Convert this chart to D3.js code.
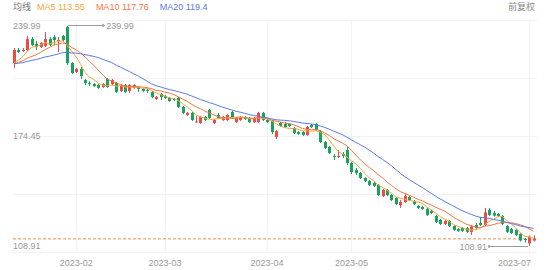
<!DOCTYPE html>
<html lang="zh">
<head>
<meta charset="UTF-8">
<title>日K 前复权</title>
<script src="https://d3js.org/d3.v7.min.js"></script>
<style>
  body { margin: 0; background: #fff; }
  svg text { font-family: Arial, "Liberation Sans", "Noto Sans CJK SC", sans-serif; font-size: 9px; }
</style>
</head>
<body>
<svg id="kline" width="550" height="270"></svg>
<script>
// trading days shown
const dates = [
  "2023-01-05","2023-01-06","2023-01-09","2023-01-10","2023-01-11","2023-01-12","2023-01-13","2023-01-16","2023-01-17","2023-01-18","2023-01-19","2023-01-20","2023-01-30","2023-01-31",
  "2023-02-01","2023-02-02","2023-02-03","2023-02-06","2023-02-07","2023-02-08","2023-02-09","2023-02-10","2023-02-13","2023-02-14","2023-02-15","2023-02-16","2023-02-17","2023-02-20","2023-02-21","2023-02-22","2023-02-23","2023-02-24","2023-02-27","2023-02-28",
  "2023-03-01","2023-03-02","2023-03-03","2023-03-06","2023-03-07","2023-03-08","2023-03-09","2023-03-10","2023-03-13","2023-03-14","2023-03-15","2023-03-16","2023-03-17","2023-03-20","2023-03-21","2023-03-22","2023-03-23","2023-03-24","2023-03-27","2023-03-28","2023-03-29","2023-03-30","2023-03-31",
  "2023-04-03","2023-04-04","2023-04-06","2023-04-07","2023-04-10","2023-04-11","2023-04-12","2023-04-13","2023-04-14","2023-04-17","2023-04-18","2023-04-19","2023-04-20","2023-04-21","2023-04-24","2023-04-25","2023-04-26","2023-04-27","2023-04-28",
  "2023-05-04","2023-05-05","2023-05-08","2023-05-09","2023-05-10","2023-05-11","2023-05-12","2023-05-15","2023-05-16","2023-05-17","2023-05-18","2023-05-19","2023-05-22","2023-05-23","2023-05-24","2023-05-25","2023-05-26","2023-05-29","2023-05-30","2023-05-31",
  "2023-06-01","2023-06-02","2023-06-05","2023-06-06","2023-06-07","2023-06-08","2023-06-09","2023-06-12","2023-06-13","2023-06-14","2023-06-15","2023-06-16","2023-06-19","2023-06-20","2023-06-21","2023-06-26","2023-06-27","2023-06-28","2023-06-29","2023-06-30",
  "2023-07-03","2023-07-04"
];

const opens = [
  217.9,225.7,225.1,225.7,232.2,229.3,227.5,228.1,232.2,233.4,231.1,234.0,239.4,217.9,
  212.6,214.4,207.8,206.0,205.4,204.8,203.6,208.4,205.4,206.0,201.3,204.8,201.3,203.1,203.6,202.5,201.9,200.7,196.5,199.5,
  198.3,197.1,196.5,197.1,191.7,187.0,188.2,182.8,182.2,185.8,190.0,182.2,187.0,184.0,184.0,188.8,182.8,184.0,185.8,185.2,182.8,182.8,188.2,
  184.0,183.4,173.9,182.2,181.6,181.6,179.2,176.8,176.8,175.1,181.0,181.6,177.4,170.9,167.9,162.5,161.9,163.7,166.1,
  158.4,154.2,152.4,149.4,147.6,146.5,145.3,138.7,142.3,139.3,137.5,133.3,135.1,138.1,135.7,132.8,132.2,131.0,129.8,126.8,
  124.4,122.0,123.8,120.8,119.0,119.6,119.6,117.3,121.4,122.6,121.4,130.4,128.6,128.0,126.8,120.8,119.0,118.5,116.1,113.1,
  110.5,112.2
];
const closes = [
  225.7,224.5,225.7,232.2,228.7,227.5,229.9,232.2,228.7,231.6,231.6,231.6,217.9,212.0,
  214.4,210.2,206.0,205.4,204.2,203.1,205.4,203.6,207.8,200.7,204.8,200.7,204.8,204.8,202.5,201.3,201.3,197.7,197.7,197.7,
  197.1,195.3,195.9,191.7,188.2,188.2,184.0,183.1,185.8,184.0,185.2,184.0,185.2,185.8,187.0,185.2,185.2,185.8,184.6,182.8,185.2,188.2,184.0,
  182.8,176.8,177.4,180.4,179.8,180.4,176.2,175.7,175.1,179.8,179.8,178.0,170.9,167.3,164.3,161.9,162.5,162.5,158.4,
  153.0,152.4,149.4,147.6,145.3,144.7,139.3,142.3,139.3,136.3,133.9,135.1,138.7,136.3,133.9,131.6,131.0,127.4,128.6,123.2,
  122.0,123.8,120.8,118.5,117.9,117.9,117.3,120.6,119.6,121.4,129.0,127.4,127.0,126.8,122.05,117.3,116.7,115.5,112.2,112.5,
  114.4,113.15
];
const highs = [
  226.9,226.9,226.9,234.0,233.4,231.1,230.5,236.4,233.4,234.6,233.4,234.6,239.99,218.5,
  215.0,215.6,208.4,207.2,206.0,205.4,206.0,209.0,208.4,206.6,205.4,205.4,205.4,205.4,204.2,203.1,203.1,201.3,198.3,200.1,
  198.9,197.7,197.1,197.7,192.3,188.8,188.8,186.4,186.4,186.4,190.5,184.6,188.2,186.4,187.6,189.4,185.8,186.4,186.4,185.8,185.8,188.8,188.8,
  184.6,184.0,178.0,182.8,182.8,182.2,179.8,177.4,177.4,180.4,181.6,182.2,178.0,171.5,168.5,163.7,166.1,164.9,167.9,
  159.0,155.4,153.0,150.0,148.2,147.0,145.9,142.9,142.9,139.9,138.1,136.3,140.5,138.7,136.3,133.3,132.8,131.6,130.4,127.4,
  125.0,124.4,124.4,121.4,119.6,120.2,120.2,121.4,122.6,126.2,131.6,131.6,129.8,128.6,127.4,121.4,119.6,119.0,116.7,113.7,
  115.2,115.2
];
const lows = [
  215.0,223.9,224.5,225.1,228.1,225.7,226.9,227.5,228.1,228.7,224.5,230.5,216.8,211.4,
  212.0,208.4,204.8,204.2,203.6,202.5,203.1,203.1,204.8,200.1,200.7,200.1,200.1,202.5,200.7,200.7,200.1,197.1,195.9,195.9,
  196.5,194.7,195.3,191.1,187.6,186.4,183.4,182.5,181.6,183.4,184.6,181.6,184.6,183.4,183.4,184.6,182.2,183.4,184.0,182.2,182.2,182.2,183.4,
  182.2,175.7,172.7,179.8,179.2,179.8,175.7,175.1,174.5,174.5,179.2,177.4,170.3,166.7,163.7,160.2,161.3,161.3,157.2,
  151.8,151.2,148.8,147.0,144.7,144.1,138.7,138.1,138.7,135.7,133.3,131.6,134.5,135.7,133.3,131.0,130.4,126.8,128.0,122.6,
  121.4,121.4,120.2,117.9,117.3,117.3,116.7,115.5,119.0,120.8,120.8,126.8,126.4,126.2,121.4,116.7,116.1,114.9,111.6,111.0,
  108.91,111.6
];
// closes of the 19 sessions before the window (for the moving averages)
const priorCloses = [219.5,218.2,216.9,217.8,216.3,215.7,217.1,218.4,219.0,217.6,216.2,215.8,216.9,218.1,217.3,216.5,215.4,216.0,216.8];

const tickLabels = ["2023-02","2023-03","2023-04","2023-05","2023-07"];
const maPeriods = [5, 10, 20];
const maNames = ["MA5", "MA10", "MA20"];
const maColors = ["#f4a73c", "#ee7846", "#5b7be2"];

const upColor = "#ee4a4a", downColor = "#17a35e";
const plot = {left: 13, right: 537, top: 20, bottom: 252};

const svg = d3.select("#kline");

const x = d3.scalePoint().domain(dates).range([14, 533.5]);
const hi = d3.max(highs), lo = d3.min(lows);
const y = d3.scaleLinear().domain([lo, hi]).range([plot.bottom - 6, plot.top + 6]);

// grid
const grid = svg.append("g").attr("stroke", "#f2f2f2").attr("stroke-width", 1);
d3.range(5).forEach(k => {
  const gy = Math.round(plot.top + k * (plot.bottom - plot.top) / 4) + 0.5;
  grid.append("line").attr("x1", plot.left).attr("x2", plot.right).attr("y1", gy).attr("y2", gy);
});
const monthStart = tickLabels.map(m => dates.find(d => d.startsWith(m)));
monthStart.forEach(d => {
  const gx = Math.round(x(d)) + 0.5;
  grid.append("line").attr("x1", gx).attr("x2", gx).attr("y1", plot.top).attr("y2", plot.bottom);
});

// x labels
svg.append("g").selectAll("text")
  .data(monthStart)
  .join("text")
  .attr("fill", "#999")
  .attr("y", 263)
  .attr("dy", "0.35em")
  .attr("x", d => x(d))
  .attr("text-anchor", "middle")
  .text((d, i) => tickLabels[i])
  .each(function() {
    const w = this.getComputedTextLength();
    const cx = +this.getAttribute("x");
    if (cx + w / 2 > plot.right - 6) {
      d3.select(this).attr("text-anchor", "end").attr("x", plot.right - 6);
    }
  });

// last price line
const last = closes[closes.length - 1];
svg.append("line")
  .attr("x1", plot.left).attr("x2", plot.right)
  .attr("y1", y(last)).attr("y2", y(last))
  .attr("stroke", "#f08a4b").attr("stroke-dasharray", "3,2").attr("stroke-width", 1);

// y labels: max, mid, min
const mid = (hi + lo) / 2;
svg.append("g").selectAll("text")
  .data([hi, mid, lo])
  .join("text")
  .attr("fill", "#999")
  .attr("x", plot.left)
  .attr("y", d => y(d))
  .attr("dy", "0.35em")
  .text(d => d.toFixed(2));

// candles
const candles = svg.append("g").selectAll("g")
  .data(dates.map((d, i) => ({d, o: opens[i], c: closes[i], h: highs[i], l: lows[i]})))
  .join("g")
  .attr("stroke", k => k.c >= k.o ? upColor : downColor)
  .attr("fill", k => k.c >= k.o ? upColor : downColor);

candles.append("line")
  .attr("x1", k => Math.round(x(k.d)) + 0.5)
  .attr("x2", k => Math.round(x(k.d)) + 0.5)
  .attr("y1", k => y(k.h))
  .attr("y2", k => y(k.l))
  .attr("stroke-width", 1);

candles.append("rect")
  .attr("x", k => Math.round(x(k.d)) - 1)
  .attr("width", 3)
  .attr("y", k => y(Math.max(k.o, k.c)))
  .attr("height", k => Math.max(1, Math.abs(y(k.o) - y(k.c))))
  .attr("stroke", "none");

// moving averages
const allCloses = priorCloses.concat(closes);
const off = priorCloses.length;
const maSeries = maPeriods.map(n => closes.map((c, i) => {
  const j = i + off;
  return d3.mean(allCloses.slice(Math.max(0, j - n + 1), j + 1));
}));

const line = d3.line().x((v, i) => x(dates[i])).y(v => y(v));
svg.append("g").selectAll("path")
  .data(maSeries)
  .join("path")
  .attr("fill", "none")
  .attr("stroke", (s, i) => maColors[i])
  .attr("stroke-width", 1)
  .attr("d", line);

// max / min markers
const iHi = highs.indexOf(hi), iLo = lows.indexOf(lo);
const mk = svg.append("g").attr("stroke", "#999").attr("fill", "#999");
const hx = x(dates[iHi]), hy = y(hi);
mk.append("line").attr("x1", hx + 1).attr("x2", hx + 35).attr("y1", hy - 0.5).attr("y2", hy - 0.5);
mk.append("path").attr("d", `M${hx + 35},${hy - 2.5}L${hx + 38},${hy - 0.5}L${hx + 35},${hy + 1.5}Z`).attr("stroke", "none");
mk.append("text").attr("stroke", "none").attr("x", hx + 39).attr("y", hy - 0.5).attr("dy", "0.35em").text(hi.toFixed(2));
const lx = x(dates[iLo]), ly = y(lo);
mk.append("line").attr("x1", lx - 1).attr("x2", lx - 40).attr("y1", ly + 0.5).attr("y2", ly + 0.5);
mk.append("circle").attr("cx", lx - 40).attr("cy", ly + 0.5).attr("r", 1.2).attr("stroke", "none");
mk.append("text").attr("stroke", "none").attr("x", lx - 42).attr("y", ly + 0.5).attr("dy", "0.35em")
  .attr("text-anchor", "end").text(lo.toFixed(2));

// legend
const legend = svg.append("g");
legend.append("text").attr("x", 13).attr("y", 7).attr("dy", "0.35em").attr("fill", "#777").text("均线");
let lxPos = 37;
maSeries.forEach((s, i) => {
  const v = +s[s.length - 1].toFixed(2);
  const t = legend.append("text").attr("x", lxPos).attr("y", 7).attr("dy", "0.35em")
    .attr("fill", maColors[i]).text(`${maNames[i]} ${v}`);
  lxPos += t.node().getComputedTextLength() + 11;
});
legend.append("text").attr("x", 535).attr("y", 7).attr("dy", "0.35em")
  .attr("text-anchor", "end").attr("fill", "#888").text("前复权");
</script>
</body>
</html>
